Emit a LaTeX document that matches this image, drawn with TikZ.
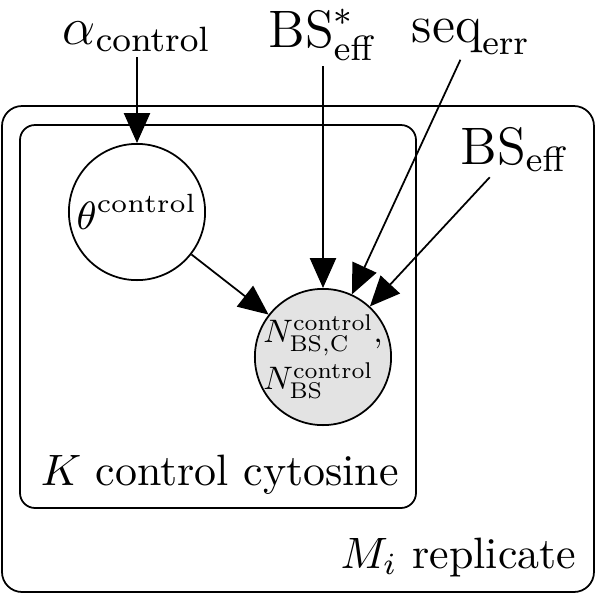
\documentclass[tikz,border=0pt]{standalone}
\usetikzlibrary{arrows.meta}

\begin{document}
\begin{tikzpicture}[
    latent/.style={circle, draw, minimum size=1.09cm, inner sep=0pt, font=\fontsize{9}{11}\selectfont},
    obs/.style={latent, fill=gray!22},
    const/.style={inner sep=1pt, font=\fontsize{11.5}{14}\selectfont},
    plate/.style={draw, rounded corners=#1},
    platelab/.style={inner sep=0pt},
    edge/.style={-{Triangle[length=2.4mm,width=2.1mm]}}
]
    \useasboundingbox (0,0) rectangle (4.792,4.768);

    % plates
    \draw[plate=0.16cm] (0.016,0.032) rectangle (4.752,3.92);
    \draw[plate=0.12cm] (0.16,0.704) rectangle (3.328,3.768);
    \node[platelab, anchor=base west] (Klab) at (0.32,0.888) {$K$ control cytosine};
    \node[platelab, anchor=base east] (Mlab) at (4.616,0.224) {$M_i$ replicate};

    % nodes
    \node[latent] (theta) at (1.096,3.072) {$\theta^{\mathrm{control}}$};
    \node[obs, label={[align=left, scale=0.74, transform shape, font=\fontsize{10}{14.5}\selectfont]center:$N^{\mathrm{control}}_{\mathrm{BS,C}}$,\\$N^{\mathrm{control}}_{\mathrm{BS}}$}] (N) at (2.584,1.912) {};

    \node[const, anchor=south] (alpha) at (1.096,4.31) {$\alpha_{\mathrm{control}}$};
    \node[const, anchor=south] (BSs) at (2.584,4.24) {$\mathrm{BS}^{*}_{\mathrm{eff}}$};
    \node[const, anchor=south] (seq) at (3.768,4.29) {$\mathrm{seq}_{\mathrm{err}}$};
    \node[const] (BSe) at (4.12,3.568) {$\mathrm{BS}_{\mathrm{eff}}$};

    % edges
    \draw[edge] (alpha) -- (theta);
    \draw[edge] (theta) -- (N);
    \draw[edge] (BSs) -- (N);
    \draw[edge] (seq) -- (N);
    \draw[edge] (BSe) -- (N);
\end{tikzpicture}
\end{document}
